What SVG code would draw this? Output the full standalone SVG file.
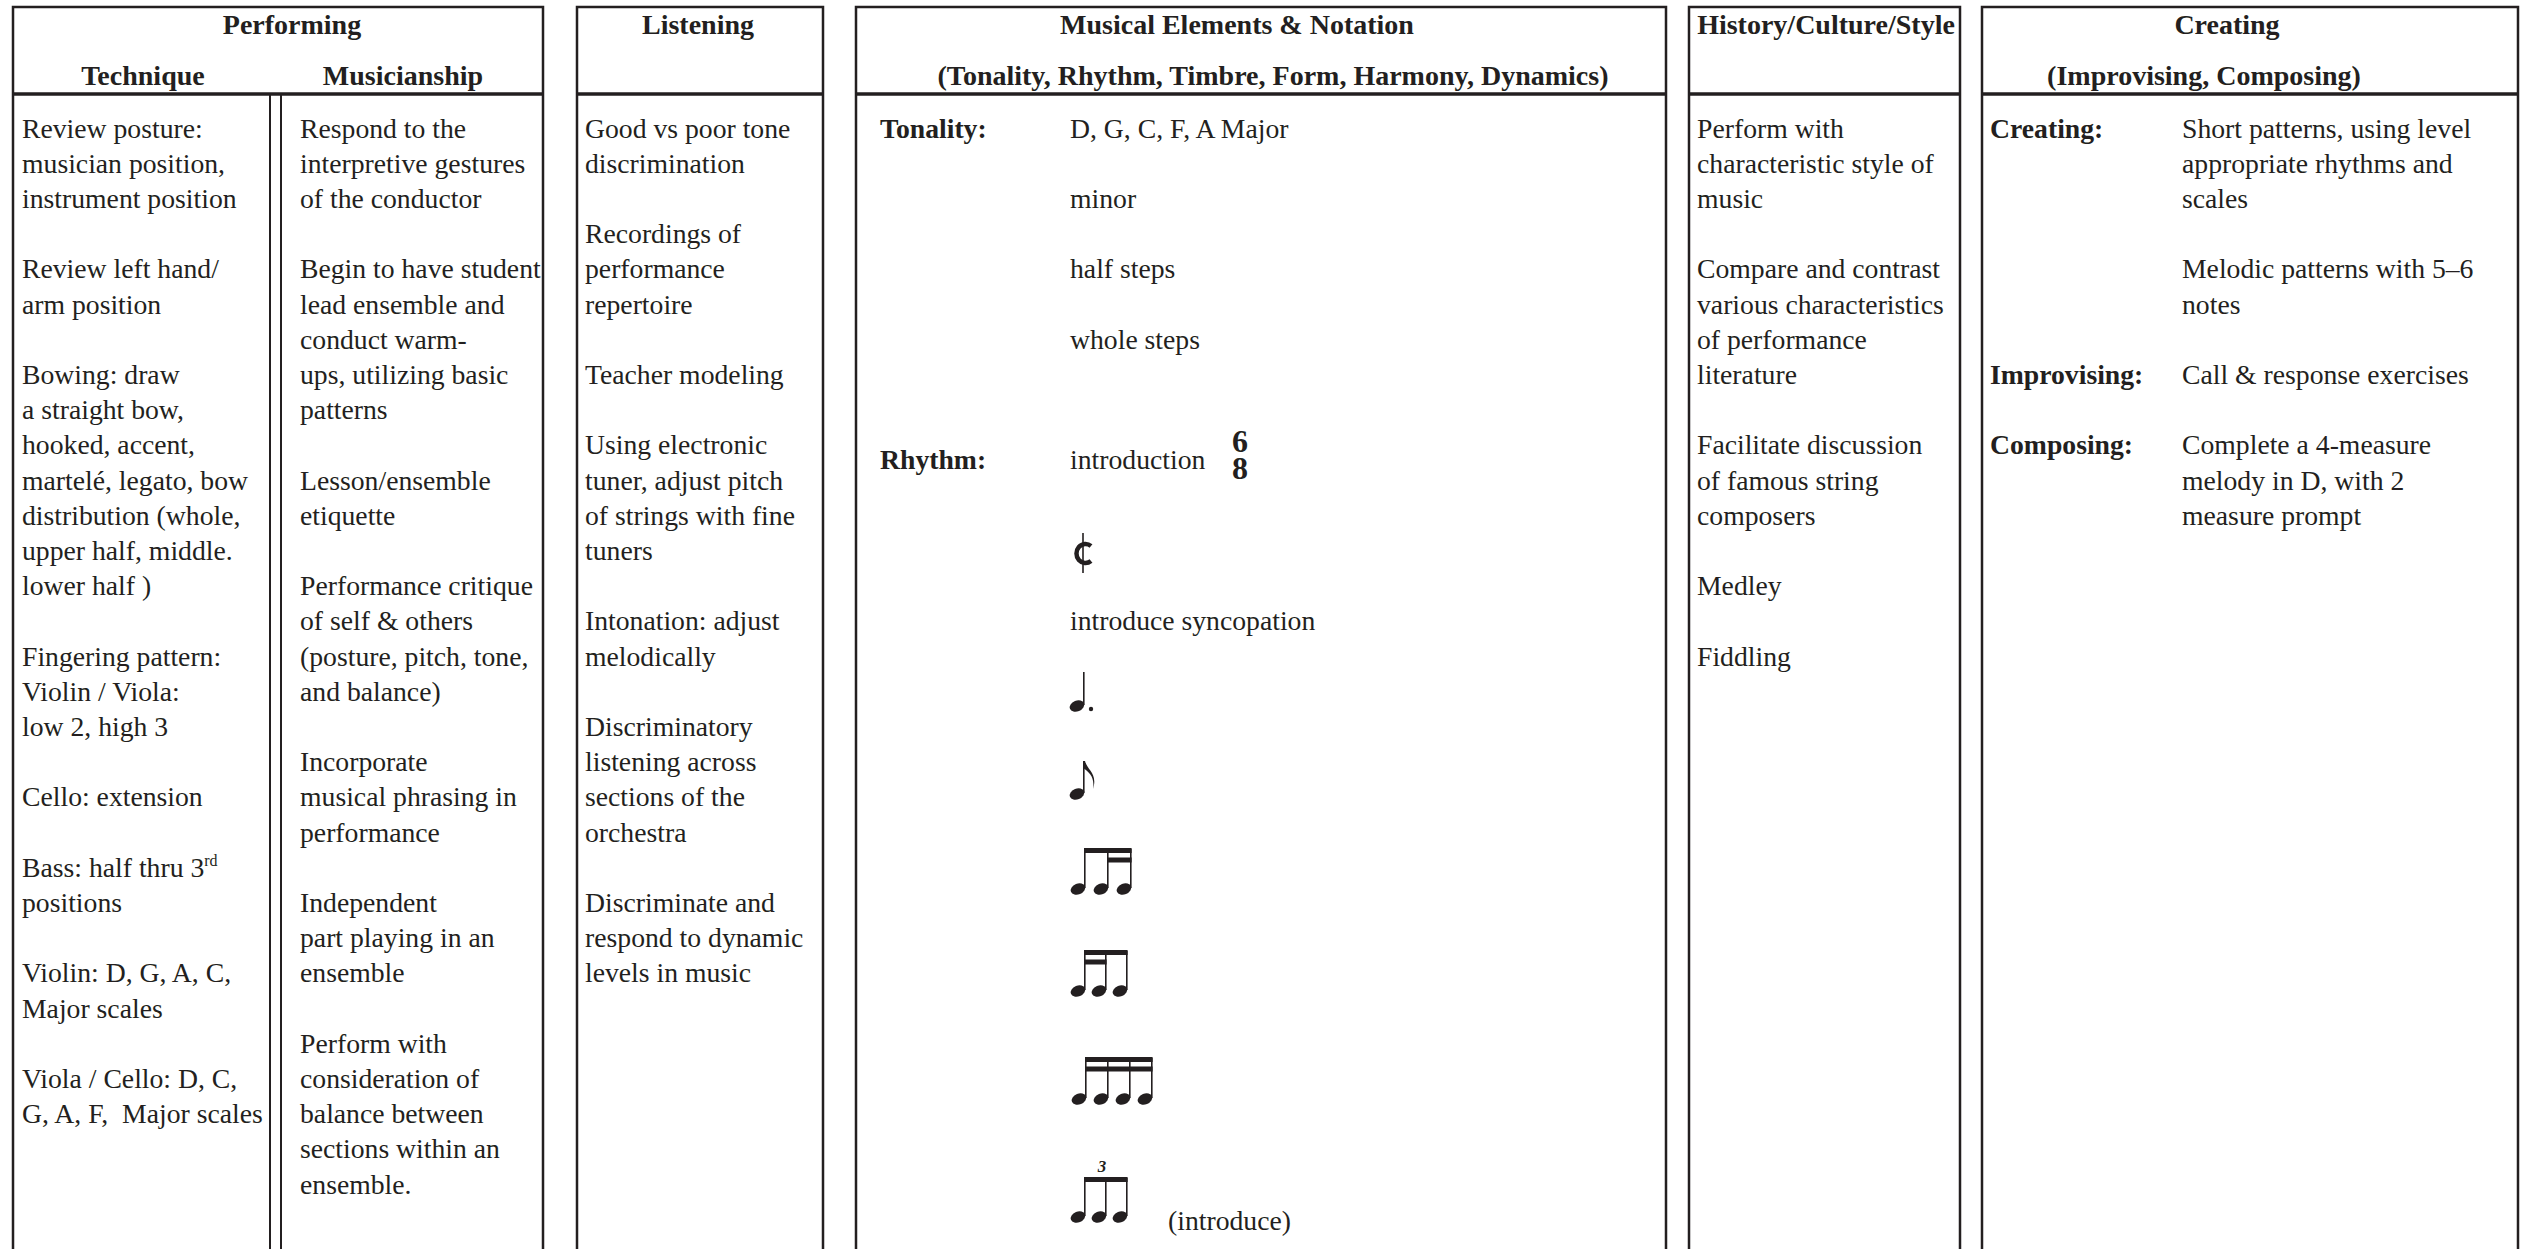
<svg xmlns="http://www.w3.org/2000/svg" width="2521" height="1249" viewBox="0 0 2521 1249">
<style>
text{font-family:"Liberation Serif","Times New Roman",serif;fill:#231f20}
.t{font-size:27.7px}
.b{font-size:27.7px;font-weight:bold}
.h{font-size:28px;font-weight:bold;text-anchor:middle}
.ln{stroke:#231f20;stroke-width:2.5;fill:none}
.hl{stroke:#231f20;stroke-width:3.5;fill:none}
.dl{stroke:#231f20;stroke-width:2;fill:none}
.ink{fill:#231f20}
.st{stroke:#231f20;stroke-width:1.6;fill:none}
.ts{font-size:32px;font-weight:bold;text-anchor:middle}
</style>
<defs>
<ellipse id="head" cx="0" cy="0" rx="7.6" ry="5.4" transform="rotate(-22)"/>
</defs>
<rect width="2521" height="1249" fill="#ffffff"/>

<g id="connectors">
<path class="ln" d="M13,1249 V7 H543 V1249"/>
<path class="hl" d="M13,94 H543"/>
<path class="dl" d="M270,94 V1249 M281,94 V1249"/>
<path class="ln" d="M577,1249 V7 H823 V1249"/>
<path class="hl" d="M577,94 H823"/>
<path class="ln" d="M856,1249 V7 H1666 V1249"/>
<path class="hl" d="M856,94 H1666"/>
<path class="ln" d="M1689,1249 V7 H1960 V1249"/>
<path class="hl" d="M1689,94 H1960"/>
<path class="ln" d="M1982,1249 V7 H2518 V1249"/>
<path class="hl" d="M1982,94 H2518"/>
</g>

<g id="performing">
<text class="h" x="292" y="34">Performing</text>
<text class="h" x="143" y="85">Technique</text>
<text class="h" x="403" y="85">Musicianship</text>
</g>

<g id="technique">
<text class="t">
<tspan x="22" y="137.5">Review posture:</tspan>
<tspan x="22" y="172.7">musician position,</tspan>
<tspan x="22" y="207.9">instrument position</tspan>
<tspan x="22" y="278.3">Review left hand/</tspan>
<tspan x="22" y="313.5">arm position</tspan>
<tspan x="22" y="383.9">Bowing: draw</tspan>
<tspan x="22" y="419.1">a straight bow,</tspan>
<tspan x="22" y="454.3">hooked, accent,</tspan>
<tspan x="22" y="489.5">martelé, legato, bow</tspan>
<tspan x="22" y="524.7">distribution (whole,</tspan>
<tspan x="22" y="559.9">upper half, middle.</tspan>
<tspan x="22" y="595.1">lower half )</tspan>
<tspan x="22" y="665.5">Fingering pattern:</tspan>
<tspan x="22" y="700.7">Violin / Viola:</tspan>
<tspan x="22" y="735.9">low 2, high 3</tspan>
<tspan x="22" y="806.3">Cello: extension</tspan>
<tspan x="22" y="876.7">Bass: half thru 3<tspan font-size="16" dy="-11">rd</tspan></tspan>
<tspan x="22" y="911.9">positions</tspan>
<tspan x="22" y="982.3">Violin: D, G, A, C,</tspan>
<tspan x="22" y="1017.5">Major scales</tspan>
<tspan x="22" y="1087.9">Viola / Cello: D, C,</tspan>
<tspan x="22" y="1123.1">G, A, F,&#160; Major scales</tspan>
</text>
</g>

<g id="musicianship">
<text class="t">
<tspan x="300" y="137.5">Respond to the</tspan>
<tspan x="300" y="172.7">interpretive gestures</tspan>
<tspan x="300" y="207.9">of the conductor</tspan>
<tspan x="300" y="278.3">Begin to have student</tspan>
<tspan x="300" y="313.5">lead ensemble and</tspan>
<tspan x="300" y="348.7">conduct warm-</tspan>
<tspan x="300" y="383.9">ups, utilizing basic</tspan>
<tspan x="300" y="419.1">patterns</tspan>
<tspan x="300" y="489.5">Lesson/ensemble</tspan>
<tspan x="300" y="524.7">etiquette</tspan>
<tspan x="300" y="595.1">Performance critique</tspan>
<tspan x="300" y="630.3">of self &amp; others</tspan>
<tspan x="300" y="665.5">(posture, pitch, tone,</tspan>
<tspan x="300" y="700.7">and balance)</tspan>
<tspan x="300" y="771.1">Incorporate</tspan>
<tspan x="300" y="806.3">musical phrasing in</tspan>
<tspan x="300" y="841.5">performance</tspan>
<tspan x="300" y="911.9">Independent</tspan>
<tspan x="300" y="947.1">part playing in an</tspan>
<tspan x="300" y="982.3">ensemble</tspan>
<tspan x="300" y="1052.7">Perform with</tspan>
<tspan x="300" y="1087.9">consideration of</tspan>
<tspan x="300" y="1123.1">balance between</tspan>
<tspan x="300" y="1158.3">sections within an</tspan>
<tspan x="300" y="1193.5">ensemble.</tspan>
</text>
</g>

<g id="listening">
<text class="h" x="698" y="34">Listening</text>
<text class="t">
<tspan x="585" y="137.5">Good vs poor tone</tspan>
<tspan x="585" y="172.7">discrimination</tspan>
<tspan x="585" y="243.1">Recordings of</tspan>
<tspan x="585" y="278.3">performance</tspan>
<tspan x="585" y="313.5">repertoire</tspan>
<tspan x="585" y="383.9">Teacher modeling</tspan>
<tspan x="585" y="454.3">Using electronic</tspan>
<tspan x="585" y="489.5">tuner, adjust pitch</tspan>
<tspan x="585" y="524.7">of strings with fine</tspan>
<tspan x="585" y="559.9">tuners</tspan>
<tspan x="585" y="630.3">Intonation: adjust</tspan>
<tspan x="585" y="665.5">melodically</tspan>
<tspan x="585" y="735.9">Discriminatory</tspan>
<tspan x="585" y="771.1">listening across</tspan>
<tspan x="585" y="806.3">sections of the</tspan>
<tspan x="585" y="841.5">orchestra</tspan>
<tspan x="585" y="911.9">Discriminate and</tspan>
<tspan x="585" y="947.1">respond to dynamic</tspan>
<tspan x="585" y="982.3">levels in music</tspan>
</text>
</g>

<g id="musical-elements">
<text class="h" x="1237" y="34">Musical Elements &amp; Notation</text>
<text class="h" x="1273" y="85">(Tonality, Rhythm, Timbre, Form, Harmony, Dynamics)</text>
<text class="b" x="880" y="137.5">Tonality:</text>
<text class="t">
<tspan x="1070" y="137.5">D, G, C, F, A Major</tspan>
<tspan x="1070" y="207.9">minor</tspan>
<tspan x="1070" y="278.3">half steps</tspan>
<tspan x="1070" y="348.7">whole steps</tspan>
</text>
<text class="b" x="880" y="469">Rhythm:</text>
<text class="t" x="1070" y="469">introduction</text>
<text class="ts" x="1240" y="452">6</text>
<text class="ts" x="1240" y="479">8</text>
<path d="M1091,546 A9,9.5 0 1 0 1091,561" stroke="#231f20" stroke-width="4.5" fill="none"/>
<path class="st" d="M1083,533 V573"/>
<text class="t" x="1070" y="630">introduce syncopation</text>
<use href="#head" class="ink" x="1077" y="706"/>
<path class="st" d="M1083.8,672 V705"/>
<circle class="ink" cx="1091" cy="709" r="2.2"/>
<use href="#head" class="ink" x="1077" y="794"/>
<path class="st" d="M1083.8,762 V793"/>
<path class="ink" d="M1083,761 L1085,761 C1087,770 1098,773 1093,789 C1095,777 1089,772 1083,768 Z"/>
<g id="rhythm1">
<use href="#head" class="ink" x="1078" y="889"/>
<use href="#head" class="ink" x="1101" y="889"/>
<use href="#head" class="ink" x="1124" y="889"/>
<path class="st" d="M1084.8,849 V888 M1107.8,849 V888 M1130.8,849 V888"/>
<rect class="ink" x="1084" y="848" width="47.6" height="5"/>
<rect class="ink" x="1107" y="857.5" width="24.6" height="5"/>
</g>
<g id="rhythm2">
<use href="#head" class="ink" x="1078" y="991"/>
<use href="#head" class="ink" x="1099" y="991"/>
<use href="#head" class="ink" x="1120" y="991"/>
<path class="st" d="M1084.8,951 V990 M1105.8,951 V990 M1126.8,951 V990"/>
<rect class="ink" x="1084" y="950" width="43.6" height="5"/>
<rect class="ink" x="1084" y="959.5" width="22.6" height="5"/>
</g>
<g id="rhythm3">
<use href="#head" class="ink" x="1079" y="1099"/>
<use href="#head" class="ink" x="1101" y="1099"/>
<use href="#head" class="ink" x="1123" y="1099"/>
<use href="#head" class="ink" x="1145" y="1099"/>
<path class="st" d="M1085.8,1058 V1098 M1107.8,1058 V1098 M1129.8,1058 V1098 M1151.8,1058 V1098"/>
<rect class="ink" x="1085" y="1057" width="67.6" height="5"/>
<rect class="ink" x="1085" y="1066.5" width="67.6" height="5"/>
</g>
<g id="rhythm4">
<text x="1102" y="1172" font-size="17" font-style="italic" font-weight="bold" text-anchor="middle">3</text>
<use href="#head" class="ink" x="1078" y="1217"/>
<use href="#head" class="ink" x="1099" y="1217"/>
<use href="#head" class="ink" x="1120" y="1217"/>
<path class="st" d="M1084.8,1178 V1216 M1105.8,1178 V1216 M1126.8,1178 V1216"/>
<rect class="ink" x="1084" y="1177" width="43.6" height="5"/>
</g>
<text class="t" x="1168" y="1230">(introduce)</text>
</g>

<g id="history">
<text class="h" x="1826" y="34">History/Culture/Style</text>
<text class="t">
<tspan x="1697" y="137.5">Perform with</tspan>
<tspan x="1697" y="172.7">characteristic style of</tspan>
<tspan x="1697" y="207.9">music</tspan>
<tspan x="1697" y="278.3">Compare and contrast</tspan>
<tspan x="1697" y="313.5">various characteristics</tspan>
<tspan x="1697" y="348.7">of performance</tspan>
<tspan x="1697" y="383.9">literature</tspan>
<tspan x="1697" y="454.3">Facilitate discussion</tspan>
<tspan x="1697" y="489.5">of famous string</tspan>
<tspan x="1697" y="524.7">composers</tspan>
<tspan x="1697" y="595.1">Medley</tspan>
<tspan x="1697" y="665.5">Fiddling</tspan>
</text>
</g>

<g id="creating">
<text class="h" x="2227" y="34">Creating</text>
<text class="h" x="2204" y="85">(Improvising, Composing)</text>
<text class="b" x="1990" y="137.5">Creating:</text>
<text class="b" x="1990" y="383.9">Improvising:</text>
<text class="b" x="1990" y="454.3">Composing:</text>
<text class="t">
<tspan x="2182" y="137.5">Short patterns, using level</tspan>
<tspan x="2182" y="172.7">appropriate rhythms and</tspan>
<tspan x="2182" y="207.9">scales</tspan>
<tspan x="2182" y="278.3">Melodic patterns with 5–6</tspan>
<tspan x="2182" y="313.5">notes</tspan>
<tspan x="2182" y="383.9">Call &amp; response exercises</tspan>
<tspan x="2182" y="454.3">Complete a 4-measure</tspan>
<tspan x="2182" y="489.5">melody in D, with 2</tspan>
<tspan x="2182" y="524.7">measure prompt</tspan>
</text>
</g>
</svg>
